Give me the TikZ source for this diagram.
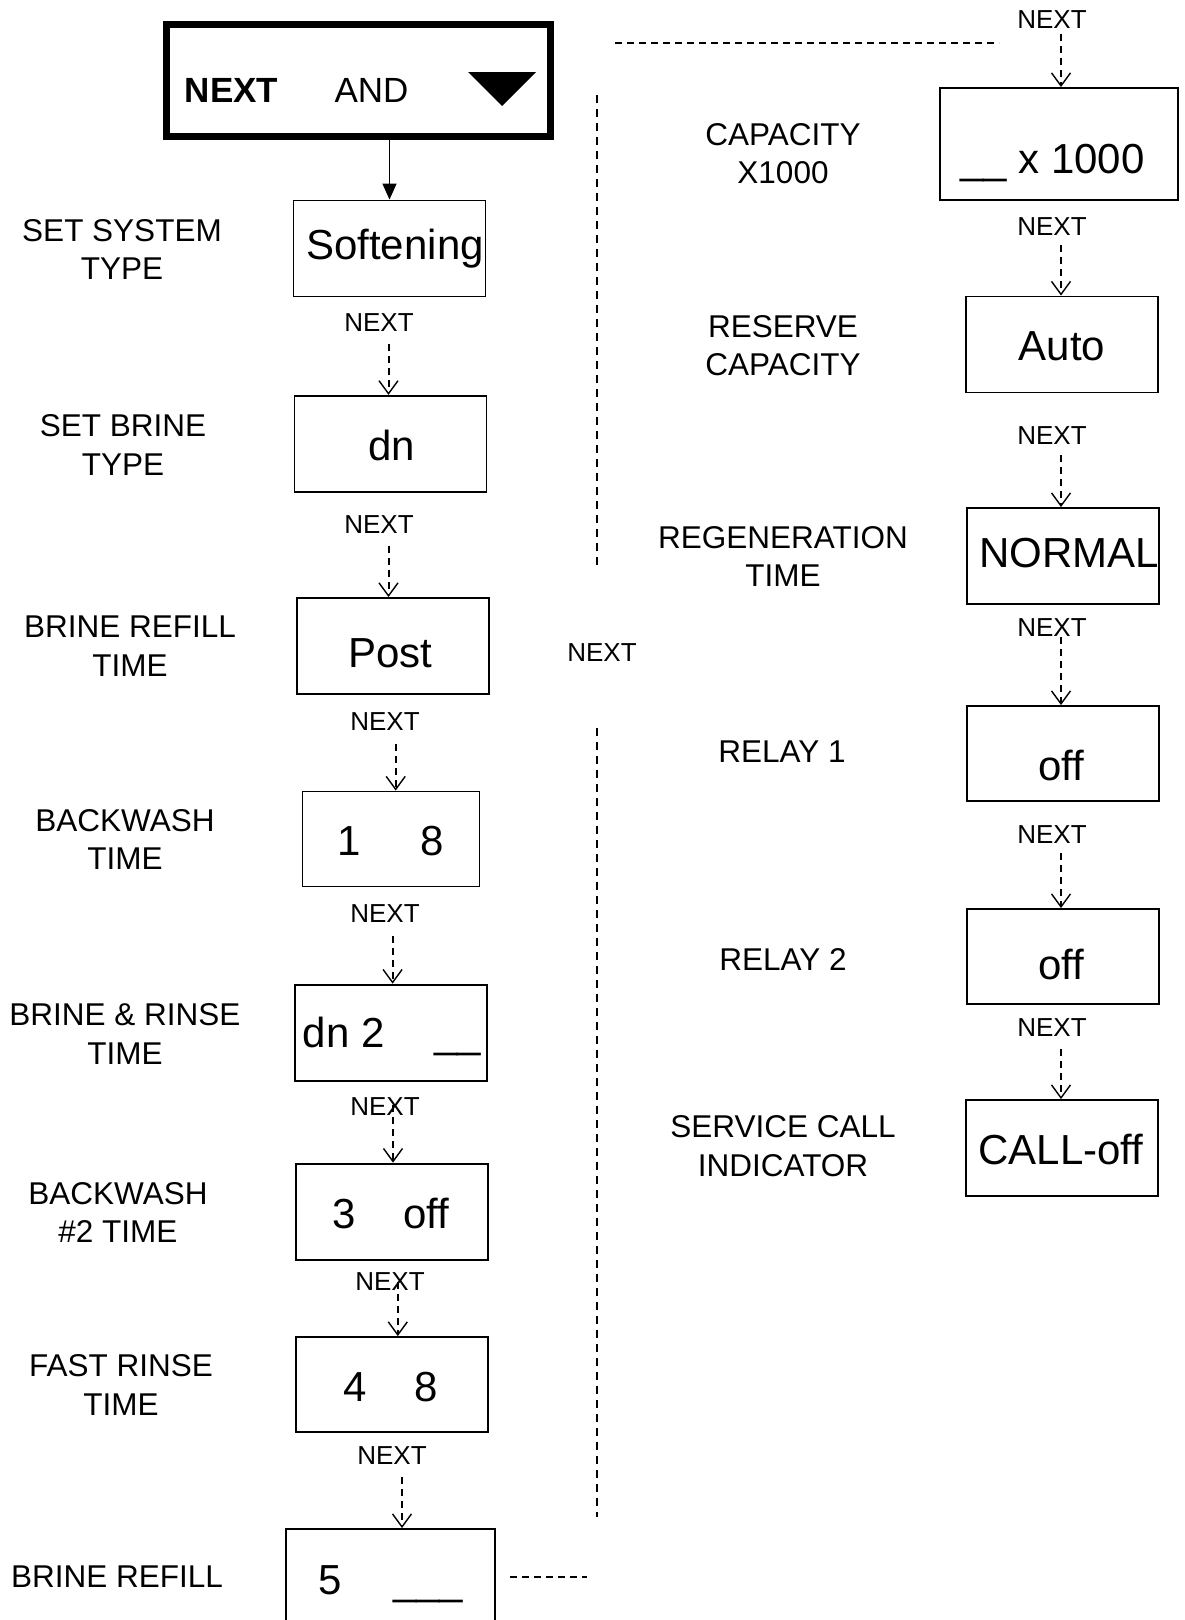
\documentclass[tikz,border=0pt]{standalone}
\usepackage{fontspec}
\setmainfont{Liberation Sans}
\usetikzlibrary{arrows.meta,positioning}

\begin{document}
\begin{tikzpicture}[x=1pt,y=-1pt,
  box/.style={draw, line width=1.9pt, minimum width=192pt, minimum height=96pt, inner sep=0pt},
  lbl/.style={align=center, inner sep=0pt, font=\fontsize{31.5}{38.5}\selectfont},
  val/.style={inner sep=0pt, font=\fontsize{42}{50}\selectfont},
  nxt/.style={inner sep=0pt, font=\fontsize{26}{30}\selectfont},
  flow/.style={line width=2pt, dash pattern=on 7pt off 5pt, -{Straight Barb[length=13pt,width=19pt,line width=1.4pt]}},
  sep/.style={line width=2pt, dash pattern=on 8pt off 6pt}]
\useasboundingbox (0,0) rectangle (1184,1620);

\node[draw, line width=7pt, minimum width=384pt, minimum height=112pt] (start) at (358,80) {};
\node[inner sep=0pt, font=\bfseries\fontsize{35}{40}\selectfont] (startnext) at (231.5,90) {NEXT};
\node[inner sep=0pt, font=\fontsize{35}{40}\selectfont] (startand) at (371.5,90) {AND};
\fill (468,72) -- (536,72) -- (502,106) -- cycle;

\node[box] (soft) at (389.5,248.5) {};
\node[box] (dn) at (390.5,443.8) {};
\node[box] (post) at (392.6,646) {};
\node[box, minimum width=177pt, minimum height=95pt] (bwone) at (391,839) {};
\node[box] (brinse) at (391,1032.6) {};
\node[box] (bwtwo) at (392,1211.6) {};
\node[box, minimum height=95pt] (frinse) at (391.6,1384.5) {};
\node[box, minimum width=209pt, minimum height=130pt] (refill) at (390.5,1594) {};

\node[box, minimum width=238pt, minimum height=112pt] (cap) at (1059,144) {};
\node[box] (auto) at (1062,344.5) {};
\node[box] (regen) at (1063,556) {};
\node[box, minimum height=95pt] (relayone) at (1063,753.5) {};
\node[box, minimum height=95pt] (relaytwo) at (1063,956.5) {};
\node[box] (call) at (1062,1148) {};

\node[val] (softv) at (395,249) {Softening};
\node[val] (dnv) at (391.6,445) {dn};
\node[val] (postv) at (390.5,653) {Post};
\node[val] (bwonev) at (390.5,841) {1\hspace{59.6pt}8};
\node[val, anchor=base west] (brinsev) at (302.7,1047) {dn 2\hspace{49.6pt}\_\_};
\node[val] (bwtwov) at (391.1,1213) {3\hspace{47.5pt}off};
\node[val] (frinsev) at (391,1386.6) {4\hspace{47.9pt}8};
\node[val, anchor=base west] (refillv) at (317.9,1594) {5\hspace{51.7pt}\_\_\_};
\node[val, anchor=base west] (capv) at (960,173) {\_\_ x 1000};
\node[val] (autov) at (1062,346) {Auto};
\node[val] (regenv) at (1069.3,553) {NORMAL};
\node[val] (relayonev) at (1061,765.6) {off};
\node[val] (relaytwov) at (1061,964) {off};
\node[val] (callv) at (1061,1149) {CALL-off};

\node[lbl] (softl) at (122,249.5) {SET SYSTEM\\TYPE};
\node[lbl] (dnl) at (123,445) {SET BRINE\\TYPE};
\node[lbl] (postl) at (130,646) {BRINE REFILL\\TIME};
\node[lbl] (bwonel) at (125,839.5) {BACKWASH\\TIME};
\node[lbl] (brinsel) at (125,1034) {BRINE \& RINSE\\TIME};
\node[lbl] (bwtwol) at (118,1212.5) {BACKWASH\\\#2 TIME};
\node[lbl] (frinsel) at (121,1385) {FAST RINSE\\TIME};
\node[lbl] (refilll) at (117,1577) {BRINE REFILL};
\node[lbl] (capl) at (783,153.5) {CAPACITY\\X1000};
\node[lbl] (autol) at (783,345.5) {RESERVE\\CAPACITY};
\node[lbl] (regenl) at (783,556.5) {REGENERATION\\TIME};
\node[lbl] (relayonel) at (782,752) {RELAY 1};
\node[lbl] (relaytwol) at (783,959) {RELAY 2};
\node[lbl] (calll) at (783,1146) {SERVICE CALL\\INDICATOR};

\node[nxt] (n1) at (379,323) {NEXT};
\node[nxt] (n2) at (379,525) {NEXT};
\node[nxt] (n3) at (385,722) {NEXT};
\node[nxt] (n4) at (385,914) {NEXT};
\node[nxt] (n5) at (385,1107) {NEXT};
\node[nxt] (n6) at (390,1282) {NEXT};
\node[nxt] (n7) at (392,1456) {NEXT};
\node[nxt] (nmid) at (602,653) {NEXT};
\node[nxt] (r0) at (1052,20) {NEXT};
\node[nxt] (r1) at (1052,227) {NEXT};
\node[nxt] (r2) at (1052,436) {NEXT};
\node[nxt] (r3) at (1052,628) {NEXT};
\node[nxt] (r4) at (1052,835) {NEXT};
\node[nxt] (r5) at (1052,1028) {NEXT};

\draw[line width=1.5pt, -{Triangle[length=16pt,width=14pt]}] (start.south -| soft.north) -- (soft.north);

\coordinate (f1) at (388.5,344);
\coordinate (f2) at (388.5,546);
\coordinate (f3) at (395.7,744);
\coordinate (f4) at (392.6,936);
\coordinate (f5) at (393,1105);
\coordinate (f6) at (397.8,1282);
\coordinate (f7) at (402,1477);
\draw[flow] (f1) -- (f1 |- dn.north);
\draw[flow] (f2) -- (f2 |- post.north);
\draw[flow] (f3) -- (f3 |- bwone.north);
\draw[flow] (f4) -- (f4 |- brinse.north);
\draw[flow] (f5) -- (f5 |- bwtwo.north);
\draw[flow] (f6) -- (f6 |- frinse.north);
\draw[flow] (f7) -- (f7 |- refill.north);

\coordinate (g0) at (1061,34);
\coordinate (g1) at (1061,245);
\coordinate (g2) at (1061,455);
\coordinate (g3) at (1061,637);
\coordinate (g4) at (1061,853);
\coordinate (g5) at (1061,1049);
\draw[flow] (g0) -- (g0 |- cap.north);
\draw[flow] (g1) -- (g1 |- auto.north);
\draw[flow] (g2) -- (g2 |- regen.north);
\draw[flow] (g3) -- (g3 |- relayone.north);
\draw[flow] (g4) -- (g4 |- relaytwo.north);
\draw[flow] (g5) -- (g5 |- call.north);

\coordinate (topa) at (615,43);
\coordinate (topb) at (999,43);
\coordinate (diva) at (597,95);
\coordinate (divb) at (597,568);
\coordinate (divc) at (597,728);
\coordinate (divd) at (597,1517);
\coordinate (bota) at (510,1577);
\coordinate (botb) at (587,1577);
\draw[sep, dash pattern=on 7pt off 5pt] (topa) -- (topb);
\draw[sep] (diva) -- (divb);
\draw[sep] (divc) -- (divd);
\draw[sep, dash pattern=on 7pt off 5pt] (bota) -- (botb);
\end{tikzpicture}
\end{document}
